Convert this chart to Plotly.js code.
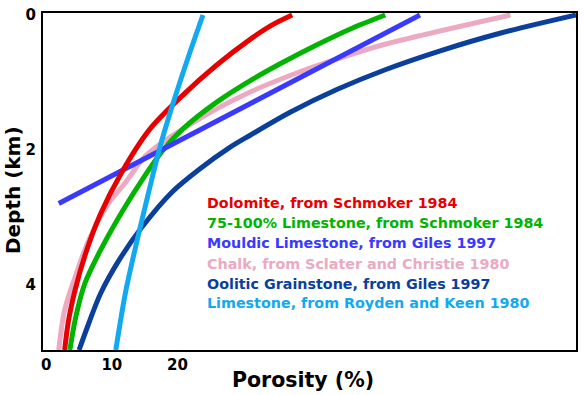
<!DOCTYPE html>
<html>
<head>
<meta charset="utf-8">
<script src="https://cdn.plot.ly/plotly-3.0.1.min.js"></script>
<style>html,body{margin:0;padding:0;background:#fff}#chart{width:585px;height:395px}</style>
</head>
<body>
<div id="chart"></div>
<script>
// ---- data (porosity %, depth km) ----
const seriesNames = [
  "Dolomite, from Schmoker 1984",
  "75-100% Limestone, from Schmoker 1984",
  "Mouldic Limestone, from Giles 1997",
  "Chalk, from Sclater and Christie 1980",
  "Oolitic Grainstone, from Giles 1997",
  "Limestone, from Royden and Keen 1980"
];
const dolomitePorosity = [37.5, 34.4, 31.1, 26.0, 20.8, 15.8, 11.5, 8.2, 5.9, 4.4, 3.4, 2.8];
const dolomiteDepth    = [0, 0.15, 0.36, 0.74, 1.19, 1.69, 2.33, 2.96, 3.56, 4.07, 4.52, 4.96];
const limestone75Porosity = [51.7, 46.3, 41.3, 36.1, 31.5, 26.0, 20.8, 17.8, 14.9, 11.7, 8.5, 5.9, 4.5, 3.6];
const limestone75Depth    = [0, 0.21, 0.44, 0.70, 0.95, 1.29, 1.69, 2.00, 2.40, 2.89, 3.44, 3.97, 4.47, 4.96];
const mouldicPorosity = [57.0, 1.9];
const mouldicDepth    = [0, 2.79];
const chalkPorosity = [70.8, 51.4, 44.4, 38.7, 31.1, 26.0, 20.8, 17.8, 15.0, 12.0, 9.5, 6.5, 4.4, 2.8, 1.9];
const chalkDepth    = [0, 0.44, 0.65, 0.84, 1.14, 1.39, 1.69, 1.88, 2.10, 2.49, 2.79, 3.33, 3.88, 4.37, 4.96];
const oolitePorosity = [80.8, 69.2, 60.1, 51.7, 44.4, 37.2, 31.1, 28.0, 23.4, 19.2, 14.6, 11.1, 8.3, 6.5, 5.0];
const ooliteDepth    = [0, 0.27, 0.53, 0.81, 1.10, 1.44, 1.78, 1.96, 2.28, 2.62, 3.14, 3.63, 4.12, 4.56, 4.96];
const roydenPorosity = [23.9, 21.6, 19.5, 17.3, 15.5, 13.8, 12.1, 10.6];
const roydenDepth    = [0, 0.64, 1.26, 1.97, 2.67, 3.36, 4.10, 4.96];
const xTickVals = [0, 10, 20];
const yTickVals = [0, 2, 4];
const xTitle = "Porosity (%)";
const yTitle = "Depth (km)";

// ---- styles ----
const colors = ["#e60000", "#00b400", "#3a3aff", "#eba9c2", "#0a3f9c", "#12a9f0"];
const FONT = "DejaVu Sans, Verdana, sans-serif";

const xs = [dolomitePorosity, limestone75Porosity, mouldicPorosity, chalkPorosity, oolitePorosity, roydenPorosity];
const ys = [dolomiteDepth, limestone75Depth, mouldicDepth, chalkDepth, ooliteDepth, roydenDepth];
// draw order: chalk (pink) first so others sit on top
const order = [3, 4, 1, 2, 0, 5];
const traces = order.map(i => ({
  type: "scatter", mode: "lines",
  x: xs[i], y: ys[i], name: seriesNames[i],
  line: {color: colors[i], width: 5, shape: "spline", smoothing: 0.9},
  hoverinfo: "skip"
}));

const labelY = [0.436, 0.377, 0.318, 0.255, 0.196, 0.139];
const annotations = seriesNames.map((t, i) => ({
  text: "<b>" + t + "</b>", xref: "paper", yref: "paper",
  x: 0.304, y: labelY[i], xanchor: "left", yanchor: "middle",
  showarrow: false, font: {family: FONT, size: 14.3, color: colors[i]}
}));
annotations.push({
  text: "<b>" + xTitle + "</b>", xref: "paper", yref: "paper",
  x: 0.487, y: -0.088, xanchor: "center", yanchor: "middle",
  showarrow: false, font: {family: FONT, size: 20.5, color: "#000"}
});
annotations.push({
  text: "<b>" + yTitle + "</b>", xref: "paper", yref: "paper",
  x: -0.056, y: 0.475, xanchor: "center", yanchor: "middle", textangle: -90,
  showarrow: false, font: {family: FONT, size: 20, color: "#000"}
});

const layout = {
  width: 585, height: 395,
  margin: {l: 43, r: 9, t: 13, b: 45, pad: 0},
  paper_bgcolor: "#fff", plot_bgcolor: "#fff",
  showlegend: false,
  font: {family: FONT, color: "#000"},
  xaxis: {
    range: [-0.5, 80.8], tickvals: xTickVals, ticks: "", showgrid: false, zeroline: false,
    showline: true, mirror: true, linecolor: "#000", linewidth: 2,
    tickfont: {family: FONT, size: 15, color: "#000", weight: "bold"}
  },
  yaxis: {
    range: [4.96, -0.03], tickvals: yTickVals, ticks: "", showgrid: false, zeroline: false,
    showline: true, mirror: true, linecolor: "#000", linewidth: 2,
    tickfont: {family: FONT, size: 15, color: "#000", weight: "bold"},
    ticklabelstandoff: 2
  },
  annotations: annotations
};

Plotly.newPlot("chart", traces, layout, {staticPlot: true, displayModeBar: false});
</script>
</body>
</html>
